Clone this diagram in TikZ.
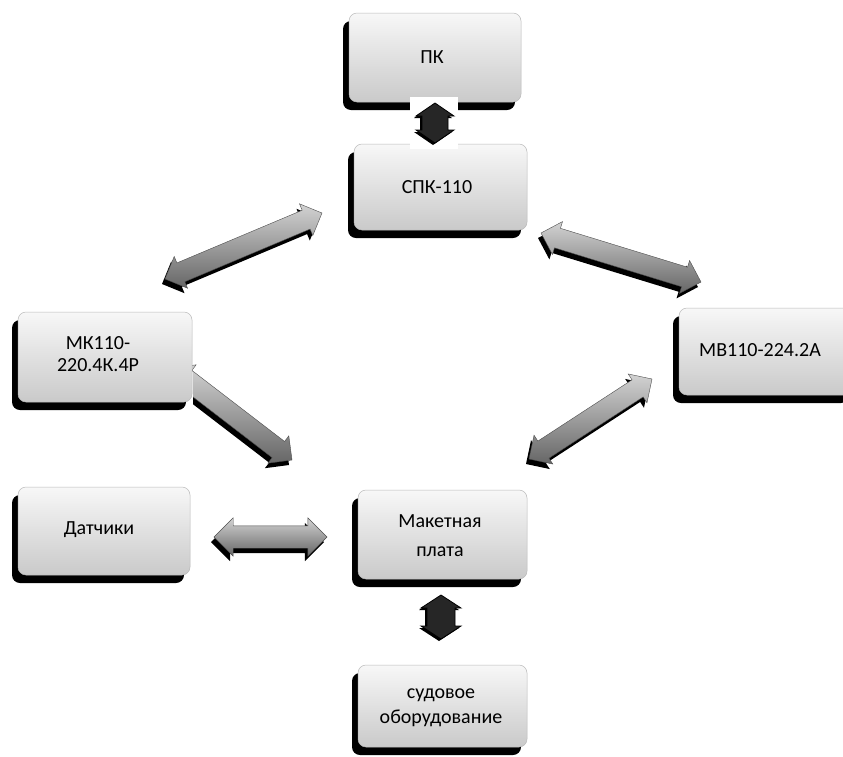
\documentclass[tikz,border=0pt]{standalone}
\usepackage{fontspec}
\setmainfont{Carlito}
\usetikzlibrary{shapes.arrows,calc,shadows}
\tikzset{
  x=1pt,y=-1pt,
  boxface/.style={rectangle, rounded corners=8pt, draw=gray!55, line width=0.5pt,
    top color=gray!6, middle color=white, bottom color=gray!42,
    general shadow={fill=black, shadow xshift=-6pt, shadow yshift=-8pt}},
  boxtext/.style={font=\fontsize{20}{22}\selectfont, align=center, text=black, inner sep=0pt},
  arrbase/.style={double arrow, double arrow head extend=7pt, inner xsep=0pt,
    text height=0pt, text depth=0pt, text width=0pt},
  arrface/.style={arrbase, top color=gray!35, middle color=white, bottom color=gray!80!black, draw=black!70, line width=0.4pt},
  arrshadow/.style={arrbase, fill=black},
  vface/.style={left color=black!85, middle color=gray!20, right color=black!85, draw=black, line width=0.8pt},
  vshadow/.style={fill=black},
}
% name, from, to, shaft half width, head extend
\newcommand\darrowx[5]{%
  \path let \p1=($(#3)-(#2)$), \n1={veclen(\x1,\y1)}, \n2={atan2(\y1,\x1)} in
    node[arrshadow, inner ysep=#4, double arrow head extend=#5, minimum height=\n1, rotate=\n2]
      at ($($(#2)!0.5!(#3)$)+(-3,5)$) {}
    node[arrface, inner ysep=#4, double arrow head extend=#5, minimum height=\n1, rotate=\n2]
      (#1) at ($(#2)!0.5!(#3)$) {};
}
% vertical stubby arrow around a named centre: style, centre, half length, half width
\newcommand\vpath[4]{%
  \path[#1] ($(#2)+(0,-#3)$) -- ($(#2)+(#4,-#3+13)$) -- ($(#2)+(#4-6,-#3+13)$)
    -- ($(#2)+(#4-6,#3-13)$) -- ($(#2)+(#4,#3-13)$) -- ($(#2)+(0,#3)$)
    -- ($(#2)+(-#4,#3-13)$) -- ($(#2)+(-#4+6,#3-13)$) -- ($(#2)+(-#4+6,-#3+13)$)
    -- ($(#2)+(-#4,-#3+13)$) -- cycle;
}
\begin{document}
\begin{tikzpicture}
\useasboundingbox[fill=white] (0,0) rectangle (843,756);

% arrow hidden partly behind MK box
\coordinate (a5s) at (172,368);
\coordinate (a5e) at (292,460);
\darrowx{a5}{a5s}{a5e}{10pt}{7pt}
\fill[white] (140,372) rectangle (192.5,440);

% boxes
\node[boxface, minimum width=172pt, minimum height=89pt] (pkb)  at (435,57.5) {};
\node[boxface, minimum width=173pt, minimum height=86pt] (spkb) at (440.5,187) {};
\node[boxface, minimum width=174pt, minimum height=90pt] (mkb)  at (105,357) {};
\node[boxface, minimum width=176pt, minimum height=87pt] (mvb)  at (767,351.5) {};
\node[boxface, minimum width=172pt, minimum height=88pt] (datb) at (104,531) {};
\node[boxface, minimum width=169pt, minimum height=89pt] (makb) at (442.5,534.5) {};
\node[boxface, minimum width=169pt, minimum height=82pt] (sudb) at (442.5,706) {};

% texts
\node[boxtext] (pk)  at (432,57) {ПК};
\node[boxtext] (spk) at (437,187) {СПК-110};
\node[boxtext] (mk)  at (98,354) {МК110-\\220.4К.4Р};
\node[boxtext] (mv)  at (760,350) {МВ110-224.2А};
\node[boxtext] (dat) at (99,530) {Датчики};
\node[boxtext, font=\fontsize{20}{29}\selectfont] (mak) at (440,536) {Макетная\\плата};
\node[boxtext, font=\fontsize{20}{25}\selectfont] (sud) at (441,708) {судовое\\оборудование};

% white patch between PK and SPK
\fill[white] (410,97) rectangle (458,148.5);

% vertical arrows
\coordinate (a1) at (435,123);
\coordinate (a1sh) at (433,125);
\coordinate (a7) at (441,617);
\coordinate (a7sh) at (439,619);
\vpath{vshadow}{a1sh}{20}{19}
\vpath{vface}{a1}{20}{19}
\vpath{vshadow}{a7sh}{22}{20}
\vpath{vface}{a7}{22}{20}

% diagonal and horizontal arrows
\coordinate (a2s) at (165,279);  \coordinate (a2e) at (322,213);
\coordinate (a3s) at (541,233);  \coordinate (a3e) at (701,282);
\coordinate (a4s) at (529,459);  \coordinate (a4e) at (652,379);
\coordinate (a6s) at (214,537);  \coordinate (a6e) at (327,537);
\darrowx{a2}{a2s}{a2e}{10pt}{7pt}
\darrowx{a3}{a3s}{a3e}{10pt}{7pt}
\darrowx{a4}{a4s}{a4e}{10pt}{7pt}
\darrowx{a6}{a6s}{a6e}{11pt}{8pt}
\end{tikzpicture}
\end{document}
